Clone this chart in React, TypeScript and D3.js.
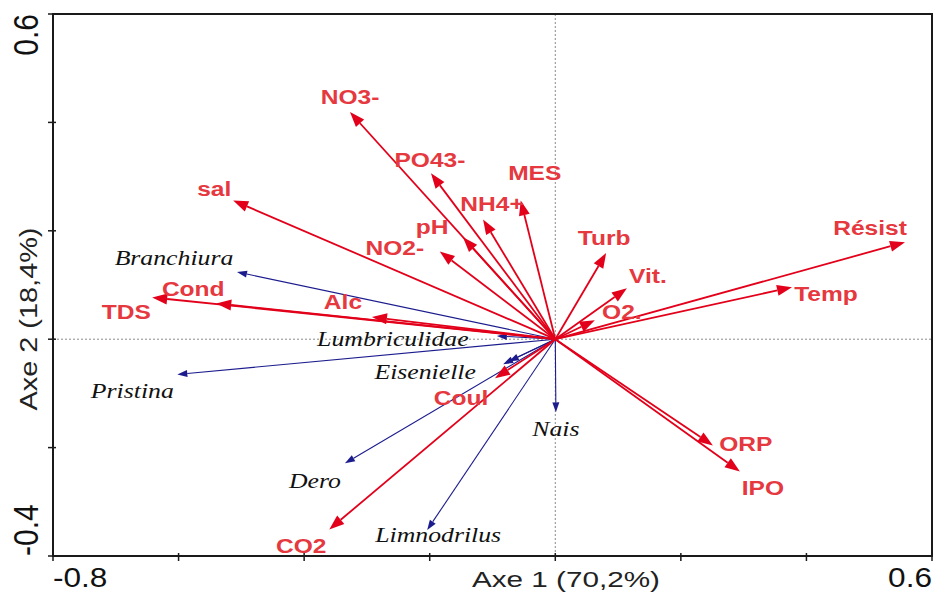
import React from "react";
import * as d3 from "d3";

// variables environnementales (flèches rouges)
const envNames = ["NO3-", "PO43-", "NH4+", "MES", "pH", "NO2-", "sal", "TDS", "Cond", "Alc", "Turb", "Vit.", "O2.", "Résist", "Temp", "ORP", "IPO", "Coul", "CO2"];
const envAxe1 = [-0.327, -0.198, -0.115, -0.055, -0.147, -0.184, -0.513, -0.642, -0.540, -0.292, 0.081, 0.114, 0.063, 0.557, 0.377, 0.251, 0.294, -0.096, -0.360];
const envAxe2 = [0.419, 0.306, 0.221, 0.256, 0.188, 0.162, 0.256, 0.077, 0.066, 0.041, 0.159, 0.094, 0.035, 0.179, 0.096, -0.196, -0.244, -0.072, -0.351];

// taxons (flèches bleues)
const taxNames = ["Branchiura", "Lumbriculidae", "Pristina", "Eisenielle", "", "Dero", "Limnodrilus", "Nais"];
const taxAxe1 = [-0.507, -0.093, -0.602, -0.083, -0.074, -0.335, -0.204, 0.001];
const taxAxe2 = [0.124, 0.006, -0.065, -0.046, -0.041, -0.229, -0.352, -0.135];

const xTicks = [-0.8, -0.6, -0.4, -0.2, 0, 0.2, 0.4, 0.6];
const yTicks = [-0.4, -0.2, 0, 0.2, 0.4, 0.6];

// décalage des étiquettes (px) par rapport à la pointe
const envOffset: Record<string, [number, number]> = {
  "NO3-": [0, -15], "PO43-": [-1, -14], "NH4+": [9, -16], MES: [14, -28], pH: [-31, -11],
  "NO2-": [-45, -4], sal: [-19, -12], TDS: [-26, 14], Cond: [-23, -15], Alc: [-29, -15],
  Turb: [-2, -15], "Vit.": [21, -13], "O2.": [27, -9], "Résist": [-35, -15], Temp: [34, 6],
  ORP: [33, -2], IPO: [23, 16], Coul: [-34, 19], CO2: [-28, 16],
};
const taxOffset: Record<string, [number, number]> = {
  Branchiura: [-63, -14], Lumbriculidae: [-104, 3], Pristina: [-45, 16], Eisenielle: [-78, 8],
  Dero: [-30, 17], Limnodrilus: [11, 5], Nais: [0, 16],
};

const W = 936, H = 593;
const SX = 1.17;
const RED = "#e2001a";
const RED_TXT = "#e5383f";
const BLUE = "#1c1c8e";

function arrowHead(x0: number, y0: number, x1: number, y1: number, len: number, half: number) {
  const a = Math.atan2(y1 - y0, x1 - x0);
  const bx = x1 - len * Math.cos(a), by = y1 - len * Math.sin(a);
  const px = -Math.sin(a) * half, py = Math.cos(a) * half;
  return { pts: `${x1},${y1} ${bx + px},${by + py} ${bx - px},${by - py}`, bx, by };
}

export default function App() {
  const x = d3.scaleLinear().domain([-0.8, 0.6]).range([53, 932]);
  const y = d3.scaleLinear().domain([-0.4, 0.6]).range([556, 14]);
  const ox = x(0), oy = y(0);

  return (
    <svg width={W} height={H} style={{ position: "absolute", left: 0, top: 0, background: "#fff" }}>
      {/* lignes zéro */}
      <line x1={ox} x2={ox} y1={y(0.6)} y2={y(-0.4)} stroke="#8a8a8a" strokeWidth={1} strokeDasharray="2,2" />
      <line x1={x(-0.8)} x2={x(0.6)} y1={oy} y2={oy} stroke="#8a8a8a" strokeWidth={1} strokeDasharray="2,2" />

      {/* taxons */}
      {taxNames.map((n, i) => {
        const tx = x(taxAxe1[i]), ty = y(taxAxe2[i]);
        const h = arrowHead(ox, oy, tx, ty, 10, 3.5);
        return (
          <g key={"t" + i}>
            <line x1={ox} y1={oy} x2={h.bx} y2={h.by} stroke={BLUE} strokeWidth={1.1} />
            <polygon points={h.pts} fill={BLUE} />
          </g>
        );
      })}

      {/* variables */}
      {envNames.map((n, i) => {
        const tx = x(envAxe1[i]), ty = y(envAxe2[i]);
        const h = arrowHead(ox, oy, tx, ty, 15, 5.5);
        return (
          <g key={"e" + i}>
            <line x1={ox} y1={oy} x2={h.bx} y2={h.by} stroke={RED} strokeWidth={1.8} />
            <polygon points={h.pts} fill={RED} />
          </g>
        );
      })}

      {/* étiquettes taxons */}
      {taxNames.map((n, i) => {
        if (!n) return null;
        const o = taxOffset[n];
        const lx = x(taxAxe1[i]) + o[0], ly = y(taxAxe2[i]) + o[1];
        return (
          <text key={"tl" + i} transform={`translate(${lx},${ly}) scale(${SX},1)`} textAnchor="middle" dominantBaseline="central"
            fontFamily="'Liberation Serif', 'DejaVu Serif', serif" fontStyle="italic" fontSize={22} fill="#111">{n}</text>
        );
      })}

      {/* étiquettes variables */}
      {envNames.map((n, i) => {
        const o = envOffset[n];
        const lx = x(envAxe1[i]) + o[0], ly = y(envAxe2[i]) + o[1];
        return (
          <text key={"el" + i} transform={`translate(${lx},${ly}) scale(${SX},1)`} textAnchor="middle" dominantBaseline="central"
            fontFamily="'Liberation Sans', Arial, sans-serif" fontWeight="bold" fontSize={21} fill={RED_TXT}>{n}</text>
        );
      })}

      {/* cadre */}
      <rect x={x(-0.8)} y={y(0.6)} width={x(0.6) - x(-0.8)} height={y(-0.4) - y(0.6)} fill="none" stroke="#1a1a1a" strokeWidth={2} />
      {xTicks.map((t) => (
        <line key={"xt" + t} x1={x(t)} x2={x(t)} y1={y(-0.4) - 3} y2={y(-0.4) + 5} stroke="#1a1a1a" strokeWidth={1.5} />
      ))}
      {yTicks.map((t) => (
        <line key={"yt" + t} x1={x(-0.8) - 5} x2={x(-0.8) + 3} y1={y(t)} y2={y(t)} stroke="#1a1a1a" strokeWidth={1.5} />
      ))}

      {/* graduations */}
      <text transform={`translate(${x(-0.8)},587) scale(${SX},1)`} fontFamily="'Liberation Sans', Arial, sans-serif" fontSize={27} fill="#111">-0.8</text>
      <text transform={`translate(${x(0.6)},587) scale(${SX},1)`} textAnchor="end" fontFamily="'Liberation Sans', Arial, sans-serif" fontSize={27} fill="#111">0.6</text>
      <text transform={`translate(38,${y(0.6)}) scale(${SX},1) rotate(-90)`} textAnchor="end" fontFamily="'Liberation Sans', Arial, sans-serif" fontSize={30} fill="#111">0.6</text>
      <text transform={`translate(38,${y(-0.4)}) scale(${SX},1) rotate(-90)`} textAnchor="start" fontFamily="'Liberation Sans', Arial, sans-serif" fontSize={30} fill="#111">-0.4</text>

      {/* titres des axes */}
      <text x={566} y={587} textAnchor="middle" fontFamily="'Liberation Sans', Arial, sans-serif" fontSize={22} textLength={188} lengthAdjust="spacingAndGlyphs" fill="#222">Axe 1 (70,2%)</text>
      <text transform={`translate(37,319) rotate(-90)`} textAnchor="middle" fontFamily="'Liberation Sans', Arial, sans-serif" fontSize={23} textLength={183} lengthAdjust="spacingAndGlyphs" fill="#222">Axe 2 (18,4%)</text>
    </svg>
  );
}
